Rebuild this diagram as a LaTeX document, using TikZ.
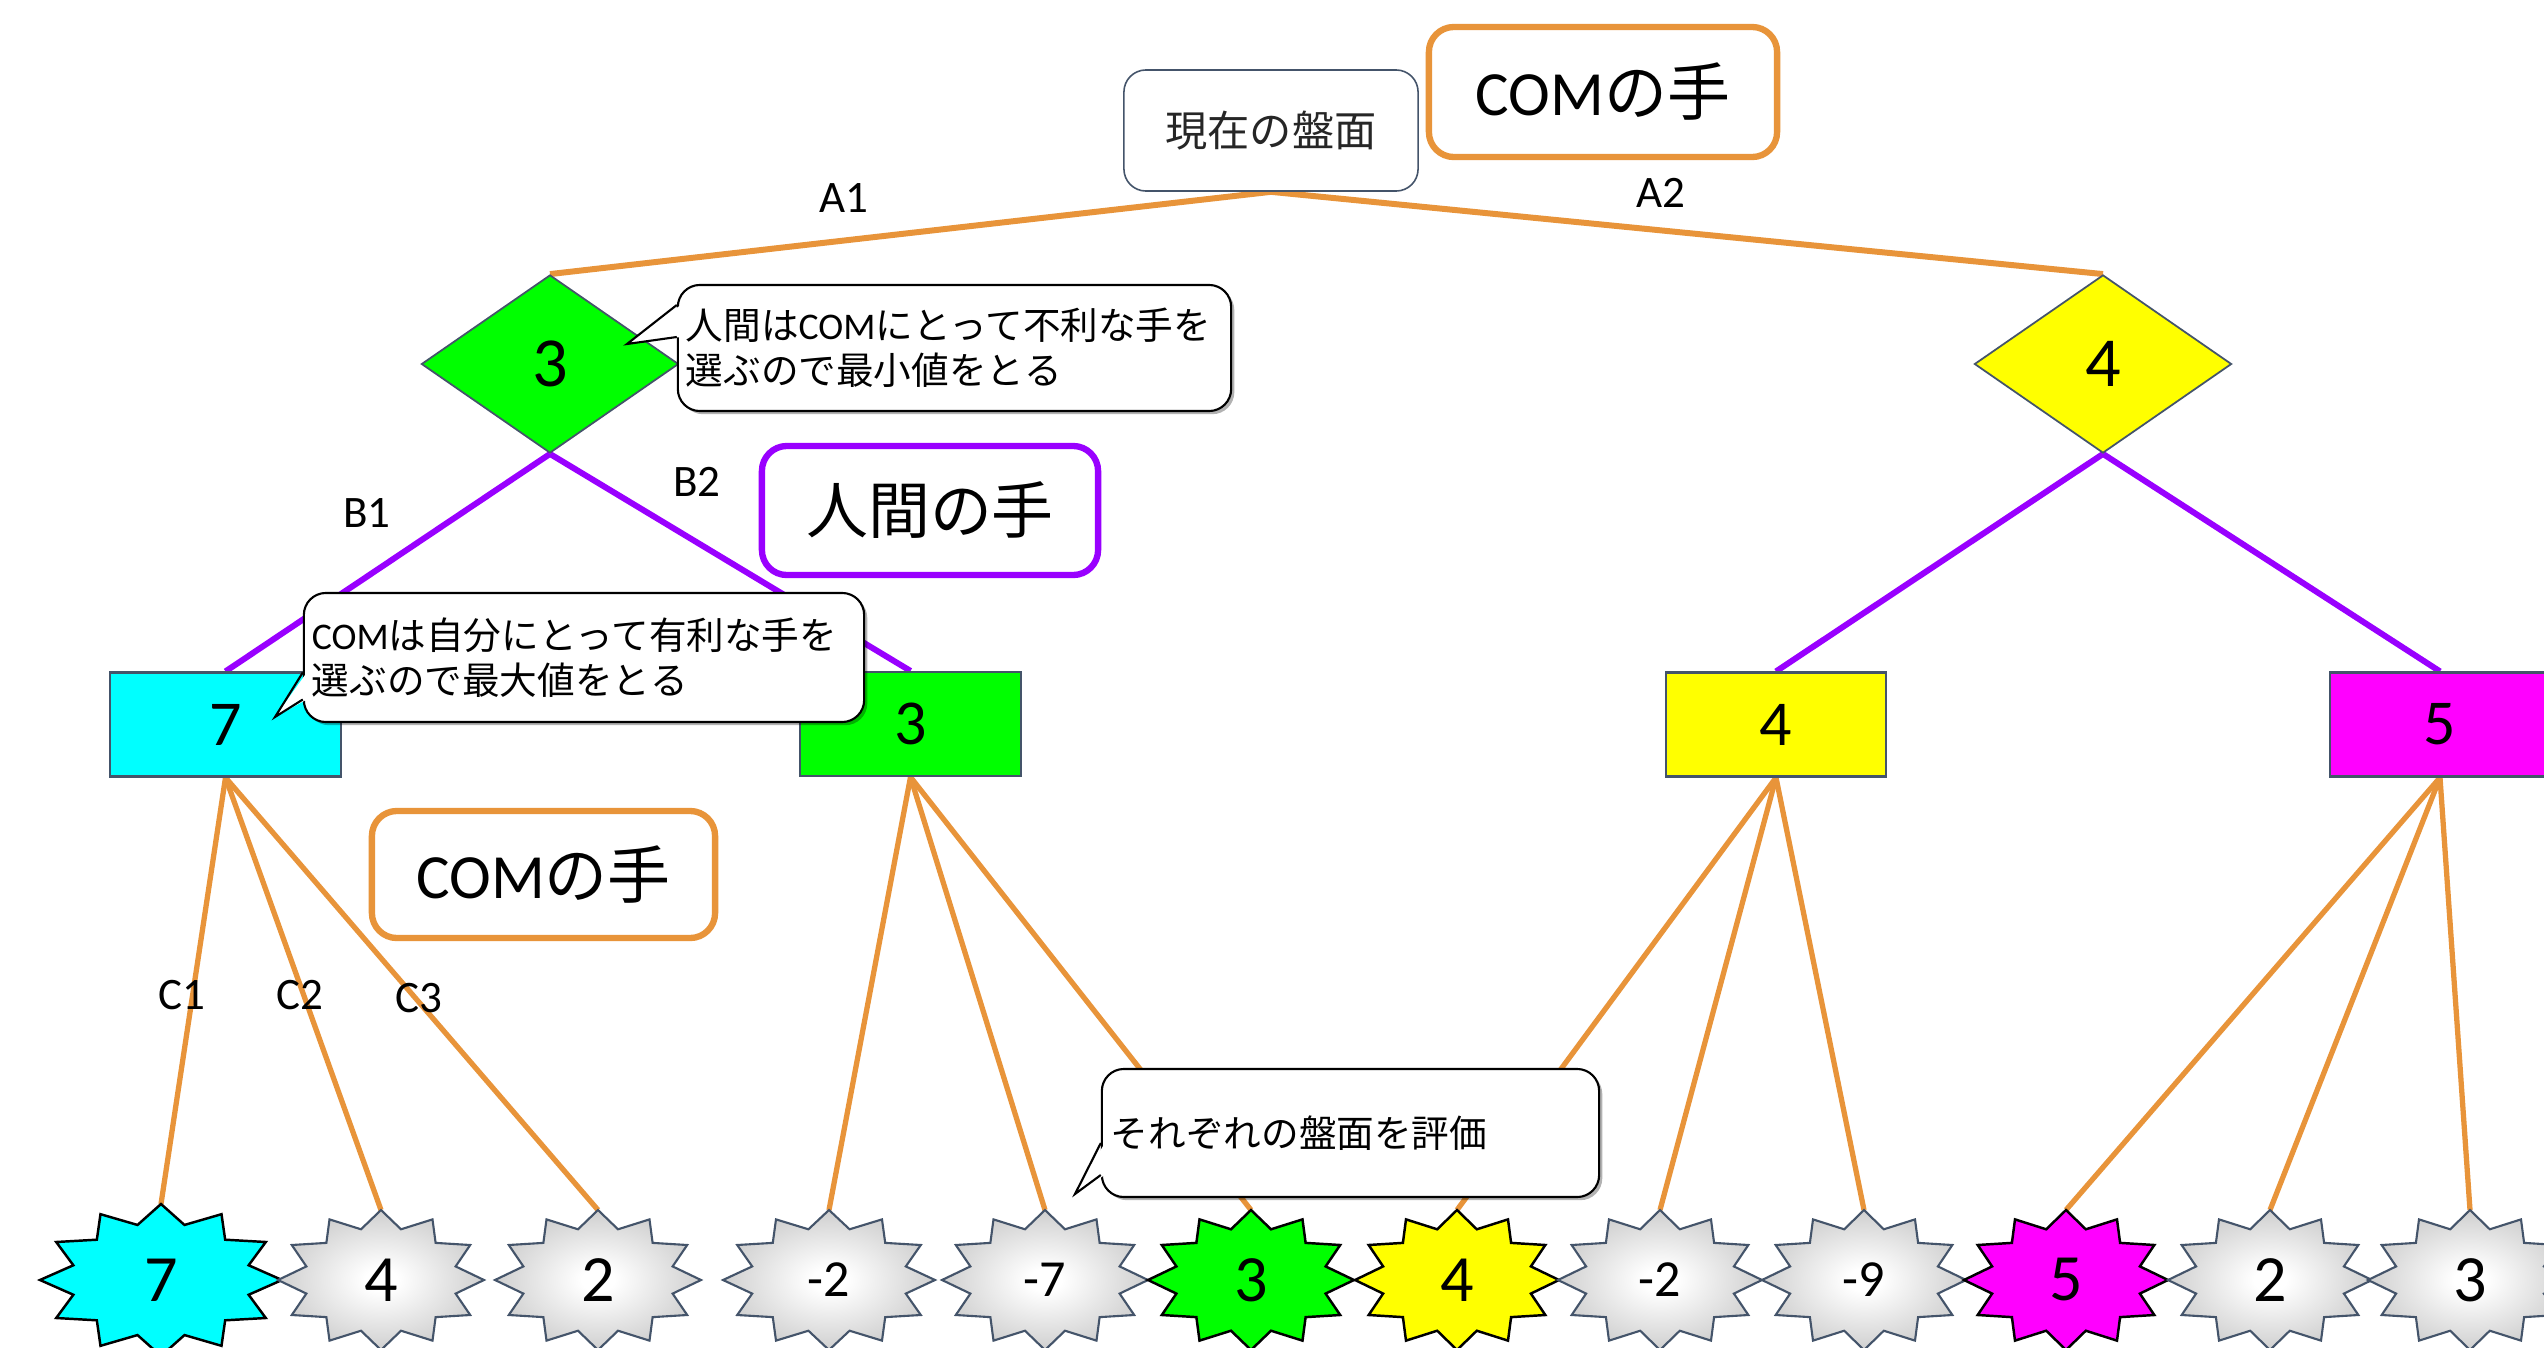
\documentclass[tikz,border=0pt]{standalone}
\usepackage{fontspec}
\setmainfont{Carlito}
\newfontfamily\cjk{Noto Sans CJK JP}
\usetikzlibrary{shapes.geometric,shadows,backgrounds,calc}
\definecolor{ora}{HTML}{E8943A}
\definecolor{pur}{HTML}{9900FF}
\definecolor{bord}{HTML}{44546A}
\definecolor{cyanc}{HTML}{00FFFF}
\definecolor{greenc}{HTML}{00FF00}
\definecolor{yellowc}{HTML}{FFFF00}
\definecolor{magc}{HTML}{FF00FF}
\pgfdeclareradialshading{starshade}{\pgfpoint{0bp}{0bp}}{color(0bp)=(white); color(4bp)=(white); color(22bp)=(black!16); color(32bp)=(black!26); color(75bp)=(black!30)}
\newcommand\drawstarshape[5]{%
  \path[#5] plot[samples at={0,...,23}, variable=\k]
    ({#1+#3*(1-0.25*mod(\k,2))*cos(90+15*\k)},{#2-#4*(1-0.25*mod(\k,2))*sin(90+15*\k)}) -- cycle;
}
\begin{document}
\begin{tikzpicture}[x=0.01cm, y=-0.01cm,
  oline/.style={draw=ora, line width=1.7pt},
  oline2/.style={draw=ora, line width=1.5pt},
  pline/.style={draw=pur, line width=1.7pt},
  rootbox/.style={draw=bord, line width=0.45pt, rounded corners=0.22cm, fill=white,
    minimum width=2.94cm, minimum height=1.21cm, font=\cjk\fontsize{12}{14}\selectfont, text=black!85},
  tagbox/.style={line width=1.8pt, rounded corners=0.25cm, fill=white, font=\fontsize{17.9}{21}\selectfont},
  diam/.style={diamond, draw=bord, line width=0.5pt, minimum width=2.57cm, minimum height=1.78cm,
    inner sep=0pt, font=\fontsize{20}{24}\selectfont},
  rectn/.style={rectangle, draw=bord, line width=0.6pt, minimum width=2.2cm, minimum height=1.04cm,
    font=\fontsize{18.2}{22}\selectfont},
  lab/.style={font=\fontsize{12.8}{15}\selectfont, inner sep=0pt},
  stxt/.style={font=\fontsize{18.8}{22}\selectfont, inner sep=0pt},
  stxtn/.style={font=\fontsize{14.8}{18}\selectfont, inner sep=0pt},
  gstar/.style={draw=bord, line width=0.6pt, shade, shading=starshade},
  cstar/.style={draw=black, line width=0.7pt},
  callout/.style={draw=black, line width=0.6pt, fill=white, rounded corners=0.22cm,
    drop shadow={shadow xshift=0.9pt, shadow yshift=-0.9pt, opacity=0.3, fill=black},
    align=left, inner xsep=0.08cm, font=\fontsize{10.7}{12.8}\selectfont},
  cedge/.style={draw=black, line width=0.6pt, line join=miter}
]
\useasboundingbox (0,0) rectangle (2544,1348);

% ---------- main nodes ----------
\node[rootbox] (root) at (1271,130.5) {現在の盤面};
\node[tagbox, draw=ora, minimum width=3.48cm, minimum height=1.30cm] (comtop) at (1603,92) {COM{\cjk の手}};
\node[tagbox, draw=pur, minimum width=3.36cm, minimum height=1.29cm] (human) at (930,510.5) {{\cjk\fontsize{17.6}{21}\selectfont 人間の手}};
\node[tagbox, draw=ora, minimum width=3.43cm, minimum height=1.27cm] (commid) at (543.5,874.5) {COM{\cjk の手}};

\node[diam, fill=greenc] (dl) at (550,364) {3};
\node[diam, fill=yellowc] (dr) at (2103,364) {4};

\node[rectn, fill=cyanc, minimum width=2.31cm] (r1) at (225.5,724.5) {7};
\node[rectn, fill=greenc] (r2) at (910.5,724) {3};
\node[rectn, fill=yellowc] (r3) at (1776,724.5) {4};
\node[rectn, fill=magc] (r4) at (2440,724.5) {5};

\node[lab] (la1) at (844,198) {A1};
\node[lab] (la2) at (1661,193) {A2};
\node[lab] (lb1) at (367,513) {B1};
\node[lab] (lb2) at (697,482) {B2};
\node[lab] (lc1) at (182,995) {C1};
\node[lab] (lc2) at (300,995) {C2};
\node[lab] (lc3) at (419,998) {C3};

% ---------- stars ----------
\drawstarshape{161}{1280}{121}{76}{cstar, fill=cyanc}
\drawstarshape{381}{1280}{103}{70}{gstar}
\drawstarshape{598}{1280}{103}{70}{gstar}
\drawstarshape{829}{1280}{106}{70}{gstar}
\drawstarshape{1045}{1280}{103}{70}{gstar}
\drawstarshape{1251}{1280}{103}{70}{cstar, fill=greenc}
\drawstarshape{1457}{1280}{102}{70}{cstar, fill=yellowc}
\drawstarshape{1660}{1280}{102}{70}{gstar}
\drawstarshape{1864}{1280}{102}{70}{gstar}
\drawstarshape{2066}{1280}{102}{70}{cstar, fill=magc}
\drawstarshape{2270}{1280}{102}{70}{gstar}
\drawstarshape{2470}{1280}{102}{70}{gstar}

\node[stxt] (s1) at (161,1280) {7};
\node[stxt] (s2) at (381,1280) {4};
\node[stxt] (s3) at (598,1280) {2};
\node[stxtn] (s4) at (829,1280) {-2};
\node[stxtn] (s5) at (1045,1280) {-7};
\node[stxt] (s6) at (1251,1280) {3};
\node[stxt] (s7) at (1457,1280) {4};
\node[stxtn] (s8) at (1660,1280) {-2};
\node[stxtn] (s9) at (1864,1280) {-9};
\node[stxt] (s10) at (2066,1280) {5};
\node[stxt] (s11) at (2270,1280) {2};
\node[stxt] (s12) at (2470,1280) {3};

\coordinate (t1) at (161,1204);
\coordinate (t2) at (381,1210);
\coordinate (t3) at (598,1210);
\coordinate (t4) at (829,1210);
\coordinate (t5) at (1045,1210);
\coordinate (t6) at (1251,1210);
\coordinate (t7) at (1457,1210);
\coordinate (t8) at (1660,1210);
\coordinate (t9) at (1864,1210);
\coordinate (t10) at (2066,1210);
\coordinate (t11) at (2270,1210);
\coordinate (t12) at (2470,1210);

% ---------- connectors (behind) ----------
\begin{pgfonlayer}{background}
\fill[white] (0,0) rectangle (2544,1348);
\draw[oline] (root.south) -- (dl.north);
\draw[oline] (root.south) -- (dr.north);
\draw[pline] (dl.south) -- (r1.north);
\draw[pline] (dl.south) -- (r2.north);
\draw[pline] (dr.south) -- (r3.north);
\draw[pline] (dr.south) -- (r4.north);
\draw[oline2] (r1.south) -- (t1);
\draw[oline2] (r1.south) -- (t2);
\draw[oline2] (r1.south) -- (t3);
\draw[oline2] (r2.south) -- (t4);
\draw[oline2] (r2.south) -- (t5);
\draw[oline2] (r2.south) -- (t6);
\draw[oline2] (r3.south) -- (t7);
\draw[oline2] (r3.south) -- (t8);
\draw[oline2] (r3.south) -- (t9);
\draw[oline2] (r4.south) -- (t10);
\draw[oline2] (r4.south) -- (t11);
\draw[oline2] (r4.south) -- (t12);
\end{pgfonlayer}

% ---------- callouts (on top) ----------
\node[callout, minimum width=5.53cm, minimum height=1.26cm, text width=5.37cm] (co1) at (954.5,348)
  {{\cjk 人間は}COM{\cjk にとって不利な手を}\\{\cjk 選ぶので最小値をとる}};
\coordinate (tip1) at (627,344);
\fill[white] ($(co1.west)+(4,-43)$) -- (tip1) -- ($(co1.west)+(4,-11)$) -- cycle;
\draw[cedge] ($(co1.west)+(0,-43)$) -- (tip1) -- ($(co1.west)+(0,-11)$);

\node[callout, minimum width=5.60cm, minimum height=1.29cm, text width=5.44cm] (co2) at (584,657.5)
  {COM{\cjk は自分にとって有利な手を}\\{\cjk 選ぶので最大値をとる}};
\coordinate (tip2) at (275,717);
\fill[white] ($(co2.west)+(4,15)$) -- (tip2) -- ($(co2.west)+(4,42)$) -- cycle;
\draw[cedge] ($(co2.west)+(0,15)$) -- (tip2) -- ($(co2.west)+(0,42)$);

\node[callout, minimum width=4.97cm, minimum height=1.28cm, text width=4.79cm] (co3) at (1350.5,1133)
  {{\cjk それぞれの盤面を評価}};
\coordinate (tip3) at (1075,1194);
\fill[white] ($(co3.west)+(4,10)$) -- (tip3) -- ($(co3.west)+(4,42)$) -- cycle;
\draw[cedge] ($(co3.west)+(0,10)$) -- (tip3) -- ($(co3.west)+(0,42)$);
\end{tikzpicture}
\end{document}
